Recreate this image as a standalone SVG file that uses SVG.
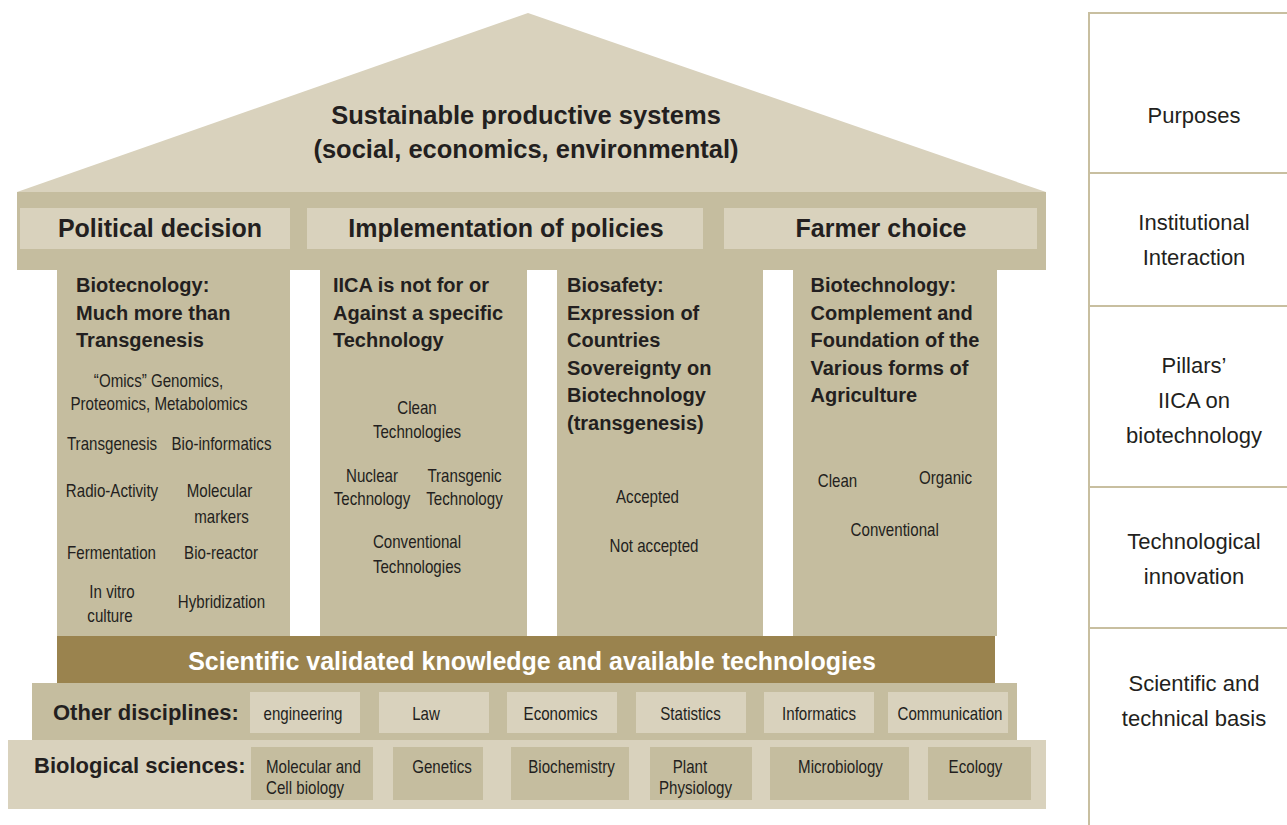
<svg xmlns="http://www.w3.org/2000/svg" width="1287" height="825" viewBox="0 0 1287 825">
<style>
text{font-family:"Liberation Sans",Arial,sans-serif;fill:#231f20}
.t{font-size:25.5px;font-weight:bold;text-anchor:middle}
.h{font-size:25px;font-weight:bold;text-anchor:middle}
.ch{font-size:20px;font-weight:bold}
.s{font-size:18px;text-anchor:middle}
.sl{font-size:18px}
.g{font-size:25px;font-weight:bold;fill:#ffffff;text-anchor:middle}
.lb{font-size:22px;font-weight:bold}
.r{font-size:22px;text-anchor:middle}
.light{fill:#d9d2bd}
.dark{fill:#c5bd9f}
.gold{fill:#9a834e}
.rule{stroke:#c8bfa0;stroke-width:2;fill:none}
</style>
<rect width="1287" height="825" fill="#ffffff"/>

<g id="roof">
<polygon class="light" points="528,13 1046,192 17,192"/>
<text class="t" x="526" y="124">Sustainable productive systems</text>
<text class="t" x="526" y="158">(social, economics, environmental)</text>
</g>

<g id="entablature">
<rect class="dark" x="17" y="192" width="1029" height="78"/>
</g>
<g id="political-decision">
<rect class="light" x="20" y="208" width="270" height="41"/>
<text class="h" x="160" y="237">Political decision</text>
</g>
<g id="implementation">
<rect class="light" x="307" y="208" width="396" height="41"/>
<text class="h" x="506" y="237">Implementation of policies</text>
</g>
<g id="farmer-choice">
<rect class="light" x="724" y="208" width="313" height="41"/>
<text class="h" x="881" y="237">Farmer choice</text>
</g>

<g id="pillar1">
<rect class="dark" x="57" y="269" width="233" height="367"/>
<text class="ch" x="76" y="292">Biotecnology:</text>
<text class="ch" x="76" y="319.5">Much more than</text>
<text class="ch" x="76" y="347">Transgenesis</text>
<text class="s" transform="translate(158.5,387) scale(0.84,1)">“Omics” Genomics,</text>
<text class="s" transform="translate(159,410) scale(0.84,1)">Proteomics, Metabolomics</text>
<text class="s" transform="translate(112,450) scale(0.84,1)">Transgenesis</text>
<text class="s" transform="translate(221.5,450) scale(0.84,1)">Bio-informatics</text>
<text class="s" transform="translate(112,497) scale(0.84,1)">Radio-Activity</text>
<text class="s" transform="translate(219.5,497) scale(0.84,1)">Molecular</text>
<text class="s" transform="translate(221.5,523) scale(0.84,1)">markers</text>
<text class="s" transform="translate(111.5,559) scale(0.84,1)">Fermentation</text>
<text class="s" transform="translate(221,559) scale(0.84,1)">Bio-reactor</text>
<text class="s" transform="translate(112,598) scale(0.84,1)">In vitro</text>
<text class="s" transform="translate(110,622) scale(0.84,1)">culture</text>
<text class="s" transform="translate(221.5,608) scale(0.84,1)">Hybridization</text>
</g>

<g id="pillar2">
<rect class="dark" x="320" y="269" width="207" height="367"/>
<text class="ch" x="333" y="292">IICA is not for or</text>
<text class="ch" x="333" y="319.5">Against a specific</text>
<text class="ch" x="333" y="347">Technology</text>
<text class="s" transform="translate(417,414) scale(0.84,1)">Clean</text>
<text class="s" transform="translate(417,438) scale(0.84,1)">Technologies</text>
<text class="s" transform="translate(372,482) scale(0.84,1)">Nuclear</text>
<text class="s" transform="translate(372,505) scale(0.84,1)">Technology</text>
<text class="s" transform="translate(464.5,482) scale(0.84,1)">Transgenic</text>
<text class="s" transform="translate(464.5,505) scale(0.84,1)">Technology</text>
<text class="s" transform="translate(417,548) scale(0.84,1)">Conventional</text>
<text class="s" transform="translate(417,573) scale(0.84,1)">Technologies</text>
</g>

<g id="pillar3">
<rect class="dark" x="557" y="269" width="206" height="367"/>
<text class="ch" x="567" y="292">Biosafety:</text>
<text class="ch" x="567" y="319.5">Expression of</text>
<text class="ch" x="567" y="347">Countries</text>
<text class="ch" x="567" y="374.5">Sovereignty on</text>
<text class="ch" x="567" y="402">Biotechnology</text>
<text class="ch" x="567" y="429.5">(transgenesis)</text>
<text class="s" transform="translate(647.5,503) scale(0.84,1)">Accepted</text>
<text class="s" transform="translate(654,552) scale(0.84,1)">Not accepted</text>
</g>

<g id="pillar4">
<rect class="dark" x="793" y="269" width="204" height="367"/>
<text class="ch" x="810.5" y="292">Biotechnology:</text>
<text class="ch" x="810.5" y="319.5">Complement and</text>
<text class="ch" x="810.5" y="347">Foundation of the</text>
<text class="ch" x="810.5" y="374.5">Various forms of</text>
<text class="ch" x="810.5" y="402">Agriculture</text>
<text class="s" transform="translate(837.5,487) scale(0.84,1)">Clean</text>
<text class="s" transform="translate(945.5,484) scale(0.84,1)">Organic</text>
<text class="s" transform="translate(894.7,535.5) scale(0.84,1)">Conventional</text>
</g>

<g id="scientific-knowledge">
<rect class="gold" x="57" y="636" width="938" height="47"/>
<text class="g" x="532" y="670">Scientific validated knowledge and available technologies</text>
</g>

<g id="other-disciplines">
<rect class="dark" x="32" y="683" width="985" height="57"/>
<text class="lb" x="53" y="720">Other disciplines:</text>
<rect class="light" x="250" y="692" width="110" height="41"/>
<text class="s" transform="translate(303,720) scale(0.84,1)">engineering</text>
<rect class="light" x="379" y="692" width="110" height="41"/>
<text class="s" transform="translate(426,720) scale(0.84,1)">Law</text>
<rect class="light" x="507" y="692" width="110" height="41"/>
<text class="s" transform="translate(560.5,720) scale(0.84,1)">Economics</text>
<rect class="light" x="636" y="692" width="110" height="41"/>
<text class="s" transform="translate(690.5,720) scale(0.84,1)">Statistics</text>
<rect class="light" x="764" y="692" width="110" height="41"/>
<text class="s" transform="translate(819,720) scale(0.84,1)">Informatics</text>
<rect class="light" x="888" y="692" width="120" height="41"/>
<text class="s" transform="translate(950,720) scale(0.84,1)">Communication</text>
</g>

<g id="biological-sciences">
<rect class="light" x="8" y="740" width="1038" height="69"/>
<text class="lb" x="34" y="773">Biological sciences:</text>
<rect class="dark" x="251" y="747" width="122" height="53"/>
<text class="sl" transform="translate(266,773) scale(0.84,1)">Molecular and</text>
<text class="sl" transform="translate(266,793.5) scale(0.84,1)">Cell biology</text>
<rect class="dark" x="393" y="747" width="90" height="53"/>
<text class="s" transform="translate(442,773) scale(0.84,1)">Genetics</text>
<rect class="dark" x="511" y="747" width="118" height="53"/>
<text class="s" transform="translate(571.5,773) scale(0.84,1)">Biochemistry</text>
<rect class="dark" x="650" y="747" width="102" height="53"/>
<text class="s" transform="translate(690,773) scale(0.84,1)">Plant</text>
<text class="s" transform="translate(695.5,793.5) scale(0.84,1)">Physiology</text>
<rect class="dark" x="770" y="747" width="139" height="53"/>
<text class="s" transform="translate(840.5,773) scale(0.84,1)">Microbiology</text>
<rect class="dark" x="928" y="747" width="103" height="53"/>
<text class="s" transform="translate(975.5,773) scale(0.84,1)">Ecology</text>
</g>

<g id="levels">
<path class="rule" d="M1089,13 V825 M1088,13 H1287 M1089,173 H1287 M1089,306 H1287 M1089,487 H1287 M1089,628 H1287"/>
<text class="r" x="1194" y="123">Purposes</text>
<text class="r" x="1194" y="230">Institutional</text>
<text class="r" x="1194" y="265">Interaction</text>
<text class="r" x="1194" y="373">Pillars’</text>
<text class="r" x="1194" y="408">IICA on</text>
<text class="r" x="1194" y="443">biotechnology</text>
<text class="r" x="1194" y="549">Technological</text>
<text class="r" x="1194" y="584">innovation</text>
<text class="r" x="1194" y="691">Scientific and</text>
<text class="r" x="1194" y="726">technical basis</text>
</g>
</svg>
